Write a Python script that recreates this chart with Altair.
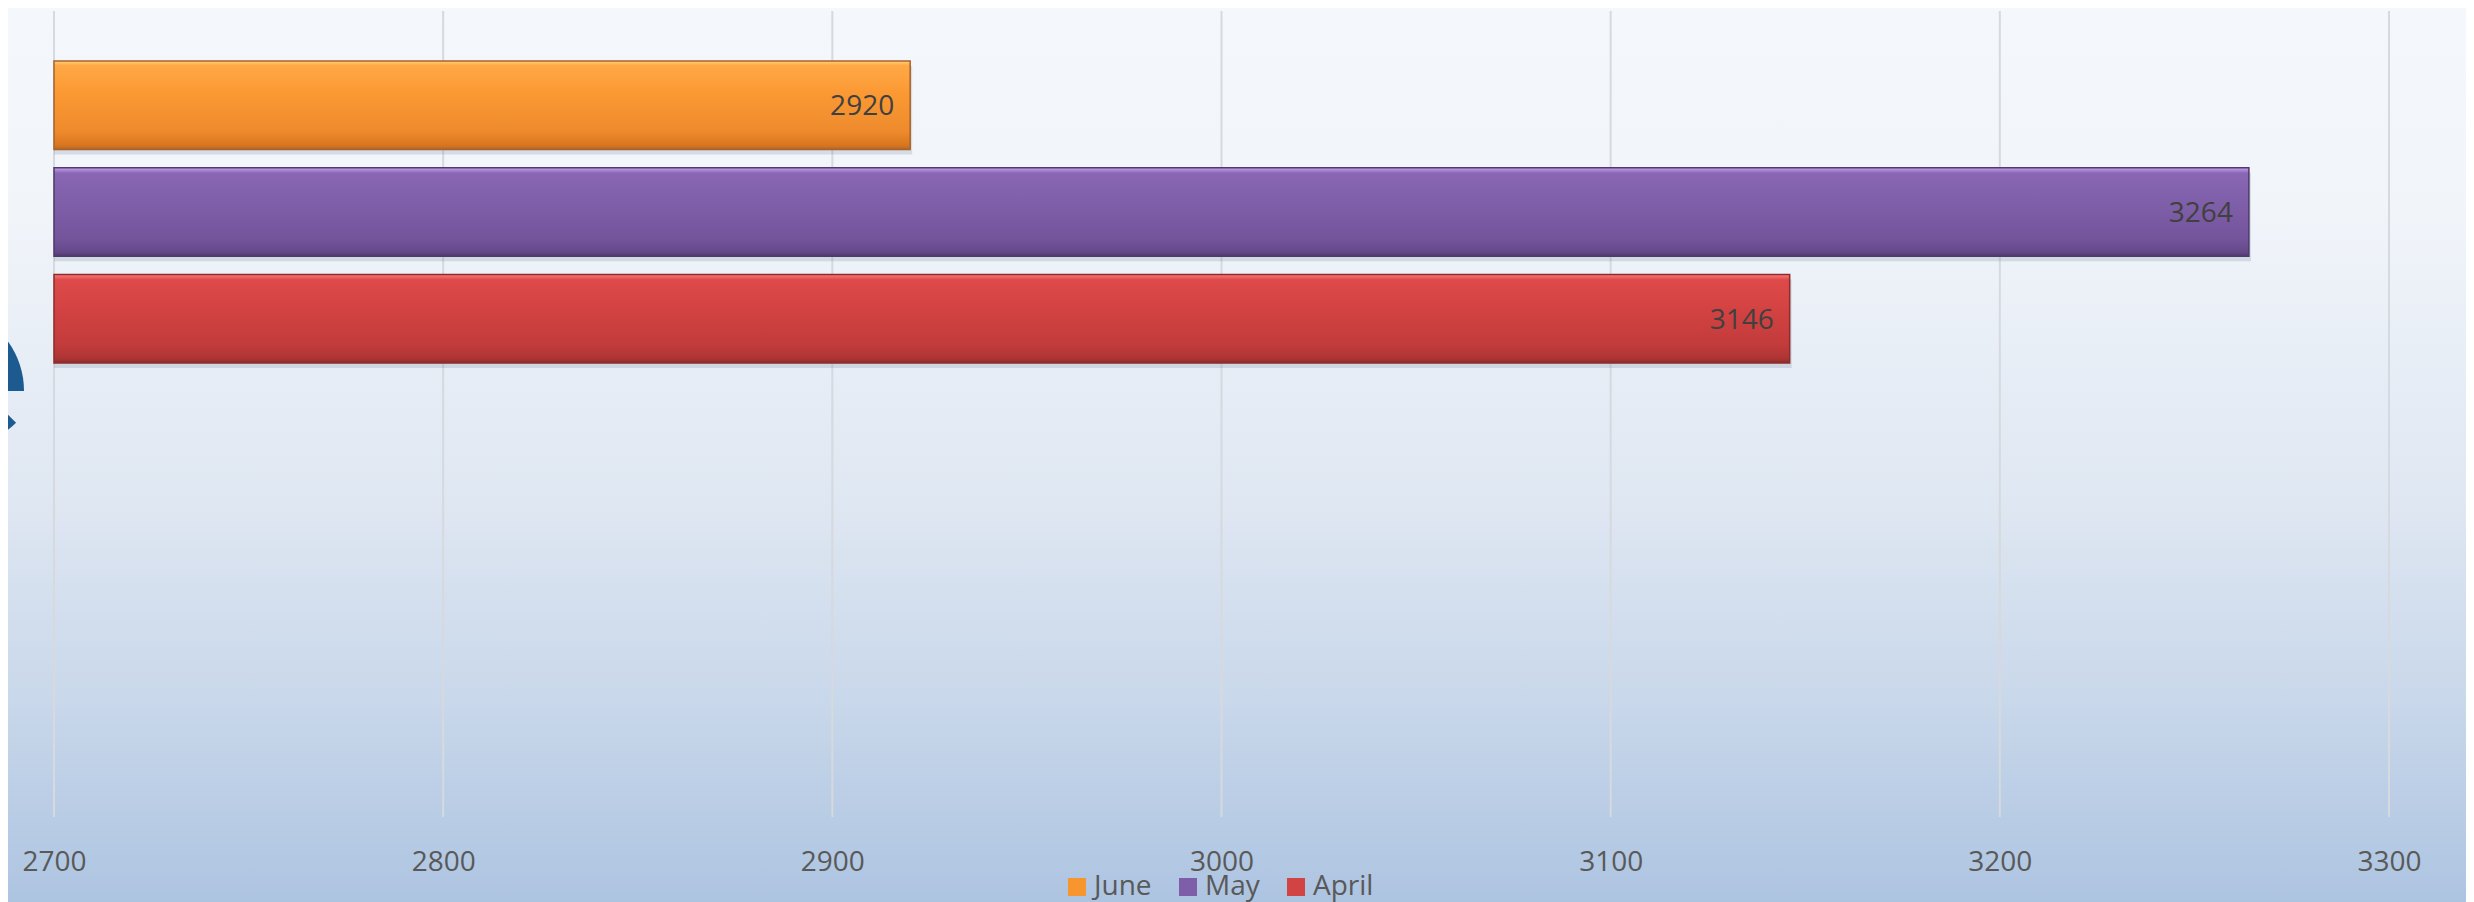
import altair as alt
import pandas as pd

# ---- data ----
series = ["June", "May", "April"]
values = [2920, 3264, 3146]
ticks = [2700, 2800, 2900, 3000, 3100, 3200, 3300]
x_min, x_max = 2700, 3300

flat_colors = ["#f7962f", "#7e5ea8", "#d24343"]
stroke_colors = ["#a8622a", "#4e3a6c", "#8c2c2c"]
grad_stops = {
    "June": [("#ffd27a", 0.0), ("#ffa846", 0.05), ("#fb9a34", 0.35),
             ("#ee8a2c", 0.8), ("#d8761f", 0.95), ("#b4672c", 1.0)],
    "May": [("#c8a2f4", 0.0), ("#8a67b4", 0.06), ("#8060aa", 0.35),
            ("#74559c", 0.8), ("#65488a", 0.95), ("#503a6e", 1.0)],
    "April": [("#ff7c7c", 0.0), ("#de4a4a", 0.06), ("#d54343", 0.35),
              ("#c23b3b", 0.8), ("#ad3434", 0.95), ("#8c2b2b", 1.0)],
}

W, H = 2335, 806
PAD = {"left": 46, "top": 3, "right": 77, "bottom": 85}
FONT = "Open Sans"

df = pd.DataFrame({"series": series, "value": values})
grid_df = pd.DataFrame({"value": ticks})


def lin_grad(stops):
    return {
        "gradient": "linear", "x1": 0, "y1": 0, "x2": 0, "y2": 1,
        "stops": [{"offset": o, "color": c} for c, o in stops],
    }


x_scale = alt.Scale(domain=[x_min, x_max], nice=False, zero=False)
x_axis = alt.Axis(values=ticks, grid=False, ticks=False, domain=False, format="d",
                  labelFontSize=28, labelFont=FONT, labelColor="#595959",
                  labelPadding=31, labelFlush=False, title=None, zindex=2)
x_enc = alt.X("value:Q", scale=x_scale, axis=x_axis, title=None)
x2_enc = alt.datum(x_min)
y_enc = alt.Y("series:N", scale=alt.Scale(domain=series, range=[50, 352],
                                           paddingInner=0.17, paddingOuter=0),
              axis=None, title=None)

# background gradient over whole chart
bg = alt.Chart(alt.Data(values=[{"a": 1}])).mark_rect(
    fill=lin_grad([("#f4f8fc", 0.0), ("#f1f5fa", 0.22), ("#dfe7f2", 0.55),
                   ("#c8d7ea", 0.78), ("#adc4e1", 1.0)]),
).encode(
    x=alt.value(-PAD["left"]), x2=alt.value(W + PAD["right"]),
    y=alt.value(-PAD["top"]), y2=alt.value(H + PAD["bottom"]),
)

# decoration at the left edge (partial logo)
deco1 = alt.Chart(alt.Data(values=[{"a": 1}])).mark_arc(
    theta=0.3, theta2=1.5708, radius=84.5, color="#1c5a8f"
).encode(x=alt.value(-114.5), y=alt.value(380))
deco2 = alt.Chart(alt.Data(values=[{"a": 1}])).mark_arc(
    theta=2.356, theta2=3.1416, radius=84.5, color="#1c5a8f"
).encode(x=alt.value(-97.7), y=alt.value(352))

grid = alt.Chart(grid_df).mark_rule(color="#d6d9dd", strokeWidth=2).encode(
    x=x_enc, y=alt.value(0), y2=alt.value(H)
)

shadow = alt.Chart(df).mark_bar(color="#6f7f95", opacity=0.22, yOffset=5, xOffset=2).encode(
    x=x_enc, x2=x2_enc, y=y_enc
)

legend_bars = alt.Chart(df).mark_bar().encode(
    x=x_enc, x2=x2_enc, y=y_enc,
    color=alt.Color("series:N", scale=alt.Scale(domain=series, range=flat_colors),
                    legend=alt.Legend(orient="none", legendX=1009, legendY=862,
                                      direction="horizontal", columns=3, title=None,
                                      symbolType="square", symbolSize=324,
                                      symbolStrokeWidth=0, symbolOpacity=1,
                                      labelFontSize=28, labelFont=FONT,
                                      labelColor="#595959", labelOffset=3,
                                      columnPadding=22, padding=0, zindex=2)),
)

grad_layers = []
for s, sc in zip(series, stroke_colors):
    grad_layers.append(
        alt.Chart(df).transform_filter(alt.datum.series == s).mark_bar(
            fill=lin_grad(grad_stops[s]), stroke=sc, strokeWidth=1.5
        ).encode(x=x_enc, x2=x2_enc, y=y_enc)
    )

labels = alt.Chart(df).mark_text(
    align="right", baseline="middle", dx=-16, dy=2,
    fontSize=28, font=FONT, color="#404040"
).encode(x=x_enc, y=y_enc, text=alt.Text("value:Q", format="d"))

chart = alt.layer(bg, deco1, deco2, grid, shadow, legend_bars, *grad_layers, labels).properties(
    width=W, height=H,
    autosize=alt.AutoSizeParams(type="none"),
    padding=PAD,
    background="#f4f8fc",
).configure_view(stroke=None)

chart.save("out.html", embed_options={"renderer": "svg", "actions": False})
